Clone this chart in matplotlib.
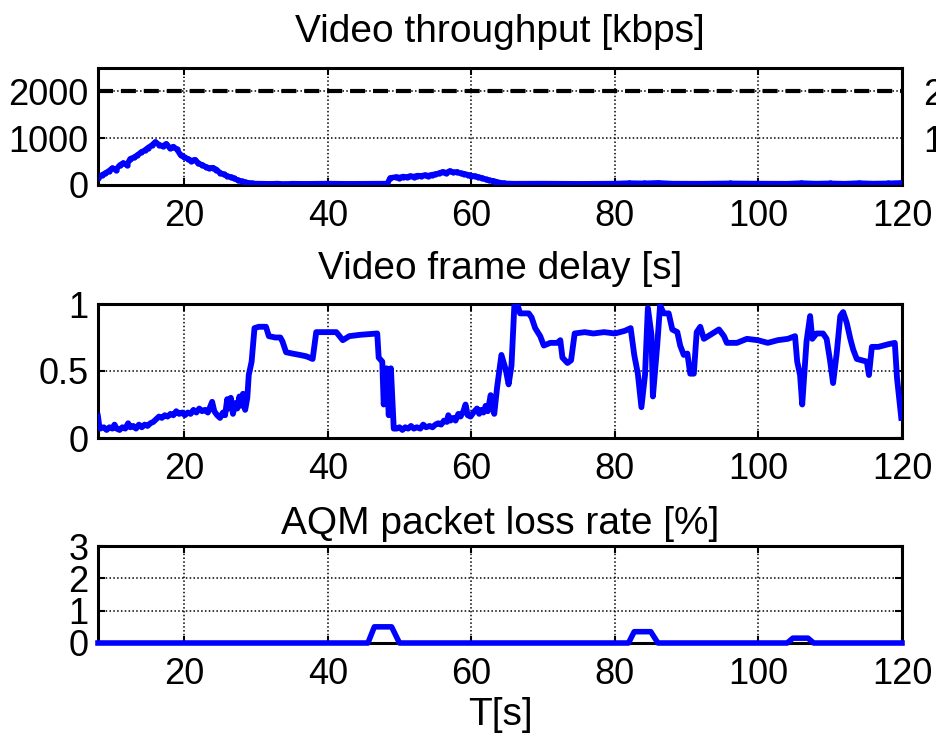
import matplotlib
matplotlib.use('Agg')
import matplotlib.pyplot as plt

plt.rcParams['font.family'] = ['Liberation Sans', 'DejaVu Sans']

BLUE = '#0000ff'

# video throughput [kbps]
tput_t = [8.0, 8.5, 9.0, 9.5, 10.0, 10.5, 11.0, 11.5, 12.0, 12.5, 13.0, 13.5,
          14.0, 14.5, 15.0, 15.5, 16.0, 16.5, 17.0, 17.5, 18.0, 18.5, 19.0,
          19.5, 20.0, 20.5, 21.0, 21.5, 22.0, 22.5, 23.0, 23.5, 24.0, 24.5,
          25.0, 25.5, 26.0, 26.5, 27.0, 27.5, 28.0, 28.5, 29.0, 29.5, 30.0,
          31.0, 32.0, 33.0, 34.0, 35.0, 37.0, 40.0, 43.0, 46.0, 48.3, 48.7,
          49.5, 50.0, 50.5, 51.0, 51.5, 52.0, 52.5, 53.0, 53.5, 54.0, 54.5,
          55.0, 55.5, 56.0, 56.5, 57.0, 57.5, 58.0, 58.5, 59.0, 59.5, 60.0,
          60.5, 61.0, 61.5, 62.0, 62.5, 63.0, 63.5, 64.0, 64.5, 65.0, 66.0,
          70.0, 75.0, 80.0, 82.0, 84.0, 86.0, 88.0, 92.0, 96.0, 100.0, 104.0,
          106.0, 108.0, 110.0, 112.0, 114.0, 116.0, 118.0, 120.0]
tput = [150, 210, 250, 300, 360, 330, 420, 470, 430, 560, 590, 640,
        700, 740, 800, 850, 920, 860, 830, 880, 790, 820, 760,
        640, 600, 560, 520, 540, 460, 430, 390, 360, 370, 330,
        260, 230, 190, 170, 140, 100, 80, 60, 45, 35, 30,
        28, 25, 30, 20, 28, 25, 30, 25, 28, 30, 150,
        170, 160, 180, 170, 190, 180, 200, 195, 210, 200, 220,
        230, 250, 280, 260, 300, 270, 280, 250, 240, 220, 200,
        190, 170, 150, 120, 100, 90, 70, 50, 40, 32, 28,
        30, 25, 30, 40, 35, 45, 30, 28, 35, 30, 28,
        40, 30, 35, 28, 40, 30, 35, 45]
tput_cap = [2000, 2000]
cap_t = [8, 120]

# video frame delay [s]
delay_t = [8.0, 8.15, 8.3, 8.8, 9.2, 9.6, 10.0, 10.3, 10.6, 11.0, 11.4, 11.8,
           12.2, 12.5, 12.9, 13.3, 13.7, 14.1, 14.5, 14.9, 15.3, 15.7, 16.1,
           16.5, 16.9, 17.3, 17.7, 18.1, 18.5, 18.9, 19.3, 19.7, 20.1, 20.5,
           20.9, 21.3, 21.7, 22.1, 22.5, 22.9, 23.3, 23.6, 23.9, 24.2, 24.6,
           25.0, 25.4, 25.7, 26.0, 26.2, 26.5, 26.8, 27.1, 27.4, 27.7, 28.0,
           28.2, 28.5, 28.8, 29.0, 29.4, 29.8, 30.4, 31.4, 31.8, 32.7, 33.4,
           33.7, 34.2, 35.1, 36.1, 37.0, 37.9, 38.4, 39.3, 41.2, 42.1, 43.0,
           44.5, 46.9, 47.1, 47.6, 47.8, 48.2, 48.5, 48.8, 49.2, 49.6, 50.0,
           50.4, 50.8, 51.2, 51.6, 52.0, 52.4, 52.9, 53.3, 53.7, 54.2, 54.6,
           55.0, 55.4, 55.8, 56.2, 56.6, 56.8, 57.1, 57.5, 57.8, 58.2, 58.5,
           58.9, 59.2, 59.5, 59.9, 60.3, 60.8, 61.1, 61.4, 61.7, 62.0, 62.3,
           62.7, 63.0, 63.2, 63.6, 64.2, 64.8, 65.2, 65.6, 66.0, 66.4, 66.8,
           68.0, 68.4, 68.9, 69.6, 70.1, 71.0, 72.0, 72.4, 72.7, 73.4, 73.9,
           74.4, 75.8, 77.0, 78.5, 80.0, 81.4, 82.2, 82.7, 83.2, 83.7, 84.2,
           84.6, 85.1, 85.3, 85.9, 86.3, 86.8, 87.5, 88.0, 88.7, 89.1, 89.6,
           90.1, 90.5, 91.0, 91.4, 91.9, 92.4, 93.3, 94.5, 95.2, 95.6, 97.0,
           98.4, 99.9, 101.3, 102.7, 104.1, 105.1, 105.4, 105.8, 106.1, 106.7,
           107.2, 107.5, 108.1, 109.0, 109.5, 110.0, 110.4, 110.9, 111.4,
           111.8, 112.3, 112.8, 113.2, 113.7, 114.4, 115.1, 115.4, 115.8,
           116.7, 117.4, 118.1, 119.0, 119.3, 119.9]
delay = [0.16, 0.10, 0.07, 0.08, 0.06, 0.08, 0.07, 0.10, 0.07, 0.06, 0.08, 0.07,
         0.11, 0.08, 0.09, 0.07, 0.10, 0.08, 0.10, 0.09, 0.11, 0.12, 0.14,
         0.16, 0.15, 0.17, 0.16, 0.18, 0.17, 0.20, 0.18, 0.19, 0.17, 0.19,
         0.18, 0.21, 0.19, 0.22, 0.20, 0.21, 0.19, 0.23, 0.27, 0.20, 0.17,
         0.15, 0.19, 0.17, 0.29, 0.22, 0.30, 0.18, 0.26, 0.22, 0.31, 0.24,
         0.33, 0.21, 0.30, 0.47, 0.57, 0.82, 0.83, 0.83, 0.76, 0.75, 0.75,
         0.72, 0.64, 0.63, 0.62, 0.61, 0.59, 0.79, 0.79, 0.79, 0.73, 0.76,
         0.77, 0.78, 0.60, 0.57, 0.25, 0.52, 0.17, 0.52, 0.07, 0.07, 0.08,
         0.06, 0.08, 0.07, 0.09, 0.07, 0.08, 0.07, 0.10, 0.08, 0.09, 0.08,
         0.10, 0.11, 0.10, 0.13, 0.12, 0.17, 0.13, 0.15, 0.13, 0.18, 0.16,
         0.20, 0.25, 0.17, 0.16, 0.19, 0.22, 0.18, 0.21, 0.19, 0.24, 0.20,
         0.32, 0.22, 0.18, 0.38, 0.62, 0.51, 0.40, 0.54, 0.99, 1.00, 0.93,
         0.93, 0.90, 0.82, 0.76, 0.69, 0.71, 0.71, 0.73, 0.60, 0.56, 0.58,
         0.78, 0.79, 0.78, 0.79, 0.78, 0.80, 0.82, 0.62, 0.48, 0.23, 0.47,
         0.97, 0.77, 0.31, 0.69, 0.99, 0.93, 0.93, 0.81, 0.79, 0.69, 0.62,
         0.63, 0.48, 0.48, 0.79, 0.83, 0.74, 0.77, 0.81, 0.76, 0.71, 0.71,
         0.74, 0.73, 0.71, 0.73, 0.74, 0.76, 0.57, 0.47, 0.25, 0.72,
         0.91, 0.74, 0.78, 0.78, 0.74, 0.57, 0.41, 0.63, 0.91,
         0.94, 0.86, 0.74, 0.66, 0.59, 0.58, 0.57, 0.47, 0.68,
         0.68, 0.69, 0.70, 0.71, 0.45, 0.15]

# AQM packet loss rate [%]
loss_t = [8, 45.6, 46.5, 48.9, 50.0, 81.9, 82.7, 85.0, 86.0, 104.0, 104.8,
          106.9, 107.7, 120]
loss = [0, 0, 0.5, 0.5, 0, 0, 0.35, 0.35, 0, 0, 0.15, 0.15, 0, 0]

W, H = 937, 734
fig = plt.figure(figsize=(W / 100, H / 100), dpi=100)


def axes_px(left, top, right, bottom):
    return fig.add_axes([left / W, 1 - bottom / H, (right - left) / W,
                         (bottom - top) / H])


def style(ax, ylim, yticks, ylabels):
    ax.set_xlim(8, 120)
    ax.set_ylim(*ylim)
    ax.set_xticks([20, 40, 60, 80, 100, 120])
    ax.set_yticks(yticks)
    ax.set_yticklabels(ylabels)
    ax.tick_params(direction='in', length=5, width=1.5, labelsize=26,
                   top=True, right=True, pad=7)
    ax.tick_params(axis='x', pad=10)
    ax.grid(True, color='black', linestyle=(0, (1, 1.5)), linewidth=1.1)
    for s in ax.spines.values():
        s.set_linewidth(2.2)


ax1 = axes_px(98, 68, 902, 185)
ax1.plot(tput_t, tput, color=BLUE, lw=4, marker='.', ms=7, zorder=3)
ax1.plot(cap_t, tput_cap, color='black', lw=3, dashes=(3.6, 1.9), zorder=3)
style(ax1, (0, 2500), [0, 1000, 2000], ['0', '1000', '2000'])
ax1.set_title('Video throughput [kbps]', fontsize=28, pad=19)
ax1r = ax1.twinx()
ax1r.set_ylim(0, 2500)
ax1r.set_yticks([1000, 2000])
ax1r.set_yticklabels(['1000', '2000'])
ax1r.tick_params(direction='in', length=0, labelsize=26, pad=15)

ax2 = axes_px(98, 304, 902, 438)
ax2.plot(delay_t, delay, color=BLUE, lw=4.2, zorder=3)
style(ax2, (0, 1), [0, 0.5, 1], ['0', '0.5', '1'])
ax2.set_title('Video frame delay [s]', fontsize=28, pad=18)

ax3 = axes_px(98, 546, 902, 643)
ax3.plot(loss_t, loss, color=BLUE, lw=4, zorder=3, clip_on=False)
style(ax3, (0, 3), [0, 1, 2, 3], ['0', '1', '2', '3'])
ax3.set_title('AQM packet loss rate [%]', fontsize=28, pad=9)
ax3.set_xlabel('T[s]', fontsize=28, labelpad=4)

fig.savefig('out.png', dpi=100)
